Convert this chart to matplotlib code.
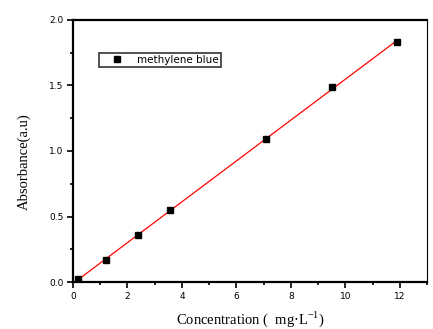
import numpy as np
import matplotlib
matplotlib.use("Agg")
import matplotlib.pyplot as plt
from matplotlib.ticker import MultipleLocator

# calibration data
conc = [0.2, 1.2, 2.4, 3.55, 7.1, 9.5, 11.9]
absorb = [0.02, 0.17, 0.36, 0.55, 1.09, 1.49, 1.83]

# linear fit over the measured range
k, b = np.polyfit(conc, absorb, 1)
xf = np.array([conc[0], conc[-1]])
yf = k * xf + b

fig = plt.figure(figsize=(4.33, 3.29), dpi=100)
ax = fig.add_axes([73 / 433, 1 - 282 / 329, 354 / 433, 262 / 329])

ax.plot(xf, yf, color="red", lw=0.9, zorder=2)
ax.plot(conc, absorb, ls="none", marker="s", ms=5, color="black",
        label="methylene blue", zorder=3)

ax.set_xlim(0, 13)
ax.set_ylim(0, 2.0)
ax.xaxis.set_major_locator(MultipleLocator(2))
ax.xaxis.set_minor_locator(MultipleLocator(1))
ax.yaxis.set_major_locator(MultipleLocator(0.5))
ax.yaxis.set_minor_locator(MultipleLocator(0.25))
ax.yaxis.set_major_formatter(plt.FormatStrFormatter("%.1f"))

for s in ["left", "bottom", "top"]:
    ax.spines[s].set_linewidth(1.6)
ax.spines["right"].set_linewidth(0.8)

ax.tick_params(which="both", direction="out", width=1.2, labelsize=6.5,
               top=False, right=False, pad=3)
ax.tick_params(which="major", length=4)
ax.tick_params(which="minor", length=2.5)

ax.set_xlabel("Concentration (  mg$\\cdot$L$^{\\mathregular{-1}}$)", family="Liberation Serif",
              fontsize=10.5, labelpad=6)
ax.set_ylabel("Absorbance(a.u)", family="Liberation Serif", fontsize=10.5)
ax.yaxis.set_label_coords(-0.12, 0.46)

leg = ax.legend(loc="upper left", bbox_to_anchor=(0.073, 0.875), fontsize=7.5,
                frameon=True, fancybox=False, handlelength=3.0, handletextpad=0.5,
                borderpad=0.2, borderaxespad=0)
leg.get_frame().set_edgecolor("black")
leg.get_frame().set_linewidth(1.2)

fig.savefig("out.png", dpi=100)
